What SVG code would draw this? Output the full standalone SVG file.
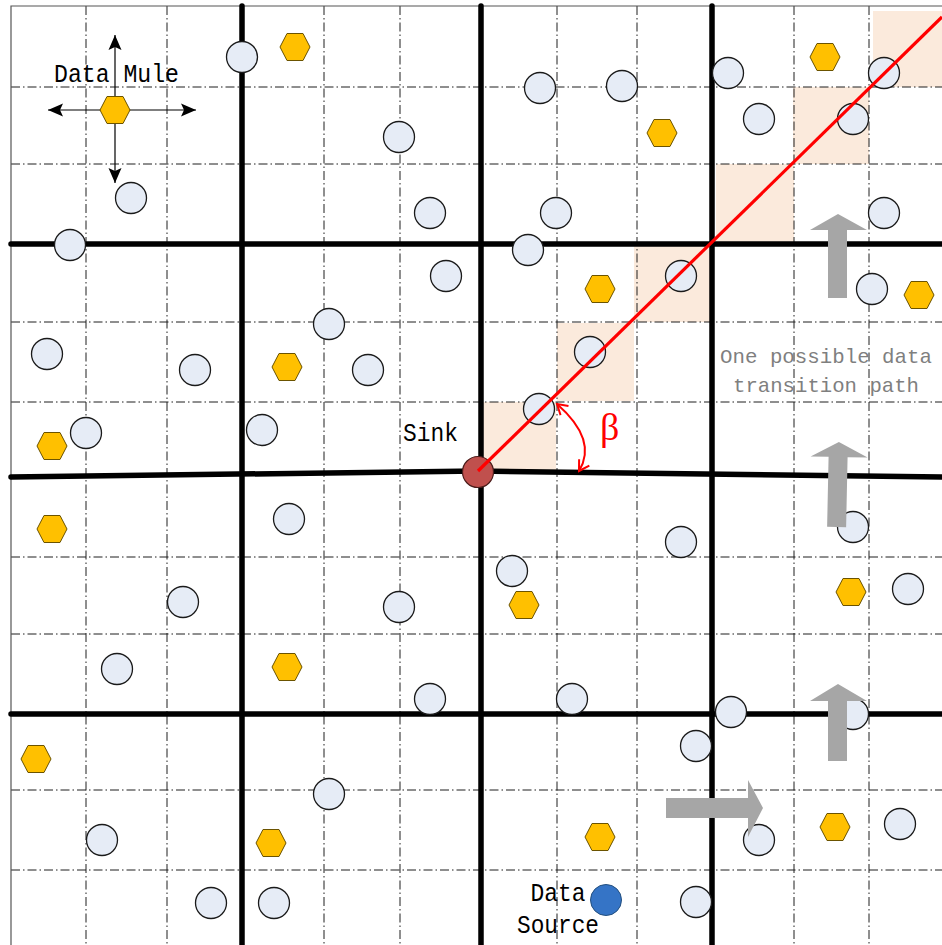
<svg xmlns="http://www.w3.org/2000/svg" xmlns:xlink="http://www.w3.org/1999/xlink" width="942" height="945" viewBox="0 0 942 945">
<style>
.grid{stroke:#1e1e1e;stroke-width:1;stroke-dasharray:9 3 1.5 3;fill:none}
.thick{stroke:#000;stroke-width:5.5;stroke-linecap:round;fill:none}
.node{fill:#E6ECF6;stroke:#1a1a1a;stroke-width:1.3}
.mule{fill:#FFC000;stroke:#6b5300;stroke-width:1}
.shade{fill:#FBEADC}
.lbl{font-family:"Liberation Mono","DejaVu Sans Mono",monospace;font-size:25px;fill:#000}
.gray{font-family:"Liberation Mono","DejaVu Sans Mono",monospace;font-size:21px;fill:#7F7F7F}
.garrow{fill:#A6A6A6}
</style>
<defs>
<polygon id="hex" points="-15,0 -8,-13.5 8,-13.5 15,0 8,13.5 -8,13.5"/>
<marker id="blk" viewBox="-16 -7 17 14" markerWidth="17" markerHeight="14" refX="0" refY="0" orient="auto-start-reverse" markerUnits="userSpaceOnUse">
<path d="M0,0 L-15,-6.5 L-12,0 L-15,6.5 Z" fill="#000"/>
</marker>
<marker id="redv" viewBox="-12 -8 14 16" markerWidth="14" markerHeight="16" refX="0" refY="0" orient="auto-start-reverse" markerUnits="userSpaceOnUse">
<path d="M-10,-6 L0,0 L-10,6" fill="none" stroke="#FF0000" stroke-width="2"/>
</marker>
</defs>
<rect x="0" y="0" width="942" height="945" fill="#fff"/>
<g id="shading">
<rect class="shade" x="483" y="402" width="73" height="69"/>
<rect class="shade" x="557" y="323" width="77" height="78"/>
<rect class="shade" x="634" y="246" width="76" height="76"/>
<rect class="shade" x="716" y="164" width="78" height="78"/>
<rect class="shade" x="793" y="87" width="76" height="77"/>
<rect class="shade" x="873" y="11" width="69" height="76"/>
</g>
<g id="grid">
<path class="grid" d="M86 6V945M167 6V945M324 6V945M400 6V945M557 6V945M637 6V945M794 6V945M869 6V945"/>
<path class="grid" d="M11 87H942M11 164H942M11 322H942M11 402H942M11 557H942M11 634H942M11 790H942M11 870H942"/>
<path d="M11 945V6H942" fill="none" stroke="#555" stroke-width="1.2"/>
</g>
<g id="regions">
<path class="thick" d="M242 6V945M481 6V945M712 6V945"/>
<path class="thick" d="M11 244H942M11 714H942"/>
<path class="thick" d="M11 477L478 471L942 477"/>
</g>
<g id="sensors">
<circle class="node" cx="242" cy="57" r="15.5"/>
<circle class="node" cx="131" cy="198" r="15.5"/>
<circle class="node" cx="70" cy="245" r="15.5"/>
<circle class="node" cx="399" cy="137" r="15.5"/>
<circle class="node" cx="540" cy="88" r="15.5"/>
<circle class="node" cx="622" cy="86" r="15.5"/>
<circle class="node" cx="728" cy="73" r="15.5"/>
<circle class="node" cx="759" cy="119" r="15.5"/>
<circle class="node" cx="853" cy="119" r="15.5"/>
<circle class="node" cx="884" cy="73" r="15.5"/>
<circle class="node" cx="884" cy="213" r="15.5"/>
<circle class="node" cx="681" cy="276" r="15.5"/>
<circle class="node" cx="872" cy="289" r="15.5"/>
<circle class="node" cx="430" cy="213" r="15.5"/>
<circle class="node" cx="556" cy="213" r="15.5"/>
<circle class="node" cx="528" cy="250" r="15.5"/>
<circle class="node" cx="446" cy="276" r="15.5"/>
<circle class="node" cx="329" cy="324" r="15.5"/>
<circle class="node" cx="47" cy="354" r="15.5"/>
<circle class="node" cx="195" cy="370" r="15.5"/>
<circle class="node" cx="368" cy="370" r="15.5"/>
<circle class="node" cx="590" cy="352" r="15.5"/>
<circle class="node" cx="539" cy="409" r="15.5"/>
<circle class="node" cx="86" cy="433" r="15.5"/>
<circle class="node" cx="262" cy="430" r="15.5"/>
<circle class="node" cx="289" cy="519" r="15.5"/>
<circle class="node" cx="681" cy="542" r="15.5"/>
<circle class="node" cx="853" cy="527" r="15.5"/>
<circle class="node" cx="512" cy="571" r="15.5"/>
<circle class="node" cx="908" cy="589" r="15.5"/>
<circle class="node" cx="183" cy="602" r="15.5"/>
<circle class="node" cx="399" cy="607" r="15.5"/>
<circle class="node" cx="117" cy="669" r="15.5"/>
<circle class="node" cx="430" cy="699" r="15.5"/>
<circle class="node" cx="572" cy="699" r="15.5"/>
<circle class="node" cx="731" cy="712" r="15.5"/>
<circle class="node" cx="853" cy="714" r="15.5"/>
<circle class="node" cx="696" cy="746" r="15.5"/>
<circle class="node" cx="329" cy="794" r="15.5"/>
<circle class="node" cx="102" cy="840" r="15.5"/>
<circle class="node" cx="759" cy="840" r="15.5"/>
<circle class="node" cx="900" cy="824" r="15.5"/>
<circle class="node" cx="211" cy="903" r="15.5"/>
<circle class="node" cx="274" cy="903" r="15.5"/>
<circle class="node" cx="696" cy="902" r="15.5"/>
</g>
<g id="mules">
<use href="#hex" class="mule" x="295" y="47"/>
<use href="#hex" class="mule" x="825" y="57"/>
<use href="#hex" class="mule" x="662" y="133"/>
<use href="#hex" class="mule" x="600" y="289"/>
<use href="#hex" class="mule" x="919" y="295"/>
<use href="#hex" class="mule" x="287" y="367"/>
<use href="#hex" class="mule" x="52" y="446"/>
<use href="#hex" class="mule" x="52" y="529"/>
<use href="#hex" class="mule" x="524" y="605"/>
<use href="#hex" class="mule" x="851" y="592"/>
<use href="#hex" class="mule" x="287" y="667"/>
<use href="#hex" class="mule" x="36" y="759"/>
<use href="#hex" class="mule" x="271" y="843"/>
<use href="#hex" class="mule" x="600" y="837"/>
<use href="#hex" class="mule" x="835" y="827"/>
</g>
<g id="legend-mule">
<line x1="115" y1="110" x2="115" y2="35" stroke="#000" stroke-width="1.2" marker-end="url(#blk)"/>
<line x1="115" y1="110" x2="115" y2="183" stroke="#000" stroke-width="1.2" marker-end="url(#blk)"/>
<line x1="115" y1="110" x2="48" y2="110" stroke="#000" stroke-width="1.2" marker-end="url(#blk)"/>
<line x1="115" y1="110" x2="196" y2="110" stroke="#000" stroke-width="1.2" marker-end="url(#blk)"/>
<use href="#hex" class="mule" x="115" y="110"/>
<text class="lbl" x="54" y="82" textLength="125" lengthAdjust="spacingAndGlyphs">Data Mule</text>
</g>
<g id="sink">
<circle cx="478" cy="472" r="15.5" fill="#C0504D" stroke="#4a1c1a" stroke-width="1.2"/>
<text class="lbl" x="403" y="441" textLength="55" lengthAdjust="spacingAndGlyphs">Sink</text>
</g>
<g id="source">
<circle cx="606" cy="900" r="15.5" fill="#3574C6" stroke="#24507f" stroke-width="1"/>
<text class="lbl" x="558" y="901" text-anchor="middle" textLength="55" lengthAdjust="spacingAndGlyphs">Data</text>
<text class="lbl" x="558" y="933" text-anchor="middle" textLength="82" lengthAdjust="spacingAndGlyphs">Source</text>
</g>
<g id="connectors">
<line x1="478" y1="471" x2="942" y2="17" stroke="#FF0000" stroke-width="3.2"/>
<path d="M557 404 Q598 440 579 471" fill="none" stroke="#FF0000" stroke-width="2" marker-start="url(#redv)" marker-end="url(#redv)"/>
</g>
<g id="beta">
<text x="600" y="440" font-family="Liberation Serif,serif" font-size="38" fill="#FF0000">β</text>
</g>
<g id="move-arrows">
<polygon class="garrow" points="838,214 867,230 847,230 847,298 828,298 828,230 810,230"/>
<polygon class="garrow" transform="rotate(1.2 838 485)" points="838,442 867,457 847,457 847,527 828,527 828,457 810,457"/>
<polygon class="garrow" points="838,684 867,701 847,701 847,761 828,761 828,701 810,701"/>
<polygon class="garrow" points="666,798 748,798 748,780 763,808 748,837 748,818 666,818"/>
</g>
<g id="path-note">
<text class="gray" x="826" y="363" text-anchor="middle" textLength="212" lengthAdjust="spacingAndGlyphs">One possible data</text>
<text class="gray" x="826" y="392" text-anchor="middle" textLength="186" lengthAdjust="spacingAndGlyphs">transition path</text>
</g>
</svg>
